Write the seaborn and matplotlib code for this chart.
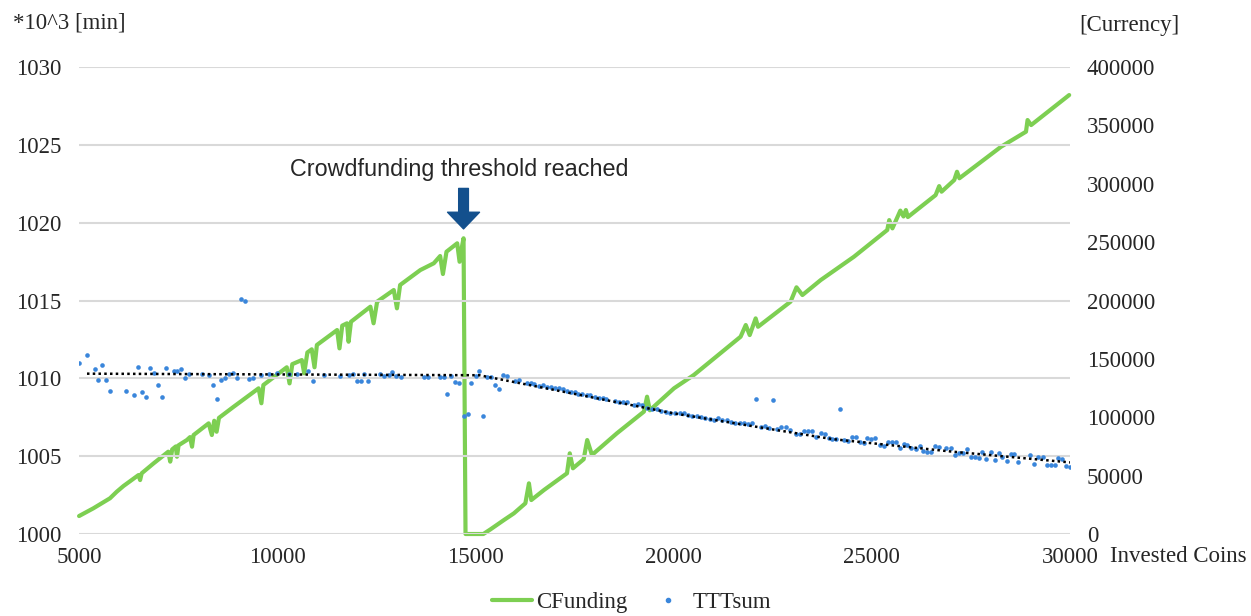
import matplotlib

matplotlib.use("Agg")
import matplotlib.pyplot as plt
from matplotlib.lines import Line2D
import pandas as pd
import seaborn as sns

# CFunding (right axis, currency), incl. the dips/spikes
cf_coins = [5000, 5360, 5780, 5950, 6120, 6500, 6540, 6580, 6880, 7250, 7300, 7350,
            7440, 7470, 7510, 7720, 7800, 7850, 7890, 8270, 8350, 8410, 8470, 8530,
            8900, 9530, 9600, 9650, 10240, 10310, 10380, 10620, 10680, 10760, 10870,
            10940, 11000, 11510, 11570, 11640, 11760, 11800, 11860, 12350, 12430,
            12520, 12940, 13020, 13100, 13610, 13950, 14110, 14180, 14270, 14540,
            14600, 14660, 14700, 14750, 15200,
            15380, 15720, 15970, 16260, 16350, 16410, 16730, 17310, 17380, 17460,
            17730, 17820, 17940, 18570, 19250, 19330, 19400, 20010, 20510, 21690,
            21820, 21920, 22070, 22130, 22950, 23100, 23250, 23710, 24550, 25390,
            25440, 25520, 25720, 25800, 25860, 25910, 26610, 26700, 26760, 27080,
            27150, 27210, 28260, 28890, 28930, 29020, 29980]
cf_currency = [15400, 22000, 30600, 36200, 41100, 50500, 46200, 52000, 60500, 70500,
               62000, 72500, 75000, 66200, 76000, 80500, 83000, 74800, 84800, 94800,
               84800, 97000, 87600, 99500, 109000, 124800, 112000, 127600, 142800,
               129000, 145500, 149000, 137600, 155500, 158200, 142800, 161900, 174700,
               159000, 178500, 180500, 164700, 181800, 194700, 180500, 199000, 209000,
               193300, 213300, 226100, 231900, 238100, 222700, 241800, 249000, 233200,
               246100, 253300, 0, 0,
               4000, 12000, 17700, 26300, 43400, 29100, 37700, 52000, 69100, 56300,
               64000, 80500, 67700, 86300, 104800, 117600, 106000, 124800, 136200,
               169000, 179000, 170400, 184700, 177500, 199000, 211300, 204700, 217500,
               237500, 260400, 268900, 261800, 277000, 272000, 277500, 271500, 290300,
               298000, 293200, 303200, 310300, 304700, 331700, 344600, 354600, 350300,
               376000]

# TTTsum (left axis, *10^3 min)
ttt_coins = [5000, 5190, 5390, 5490, 5590, 5680, 5780, 6190, 6390, 6480, 6580, 6680,
             6780, 6880, 6980, 7090, 7190, 7390, 7480, 7580, 7680, 7780, 8100, 8290,
             8390, 8480, 8590, 8690, 8790, 8890, 8990, 9090, 9190, 9290, 9390, 9590,
             9790, 10000, 10290, 10500, 10770, 10890, 11190, 11590, 11800, 11900,
             12010, 12110, 12200, 12290, 12600, 12700, 12810, 12900, 13000, 13110,
             13710, 13800, 14100, 14200, 14290, 14390, 14490, 14590, 14700, 14800,
             14900, 15010, 15100, 15190, 15290, 15390, 15490, 15590, 15690, 15800,
             15990, 16100, 16300, 16390, 16490, 16600, 16700, 16810, 16900, 17000,
             17100, 17200, 17300, 17400, 17500, 17600, 17690, 17820, 17900, 18010,
             18110, 18210, 18300, 18520, 18620, 18730, 18830, 19000, 19110, 19210,
             19330, 19460, 19580, 19690, 19810, 19920, 20030, 20150, 20260, 20370,
             20470, 20580, 20680, 20800, 20910, 21010, 21120, 21220, 21350, 21460,
             21560, 21670, 21770, 21880, 21980, 22090, 22200, 22300, 22410, 22510,
             22610, 22720, 22830, 22930, 23080, 23180, 23290, 23390, 23500, 23600,
             23710, 23810, 23920, 23990, 24090, 24200, 24300, 24400, 24510, 24610,
             24700, 24800, 24890, 24990, 25080, 25200, 25310, 25410, 25500, 25600,
             25700, 25800, 25900, 26000, 26110, 26210, 26300, 26400, 26500, 26600,
             26700, 26880, 26990, 27100, 27200, 27300, 27400, 27510, 27610, 27710,
             27790, 27890, 28000, 28100, 28200, 28290, 28400, 28500, 28600, 28700,
             29000, 29100, 29200, 29310, 29410, 29510, 29610, 29710, 29790, 29910,
             29990]
ttt_sum = [1010.96, 1011.5, 1010.6, 1009.9, 1010.85, 1009.9, 1009.2, 1009.2, 1008.9,
           1010.7, 1009.1, 1008.8, 1010.65, 1010.35, 1009.6, 1008.8, 1010.65, 1010.5,
           1010.45, 1010.6, 1010.05, 1010.25, 1010.27, 1010.2, 1009.6, 1008.7, 1009.9,
           1010.05, 1010.3, 1010.35, 1010.05, 1015.1, 1015.0, 1009.95, 1010.05, 1010.2,
           1010.3, 1010.35, 1010.3, 1010.3, 1010.45, 1009.85, 1010.2, 1010.15, 1010.2,
           1010.25, 1009.8, 1009.8, 1010.25, 1009.8, 1010.25, 1010.15, 1010.2, 1010.4,
           1010.15, 1010.1, 1010.1, 1010.1, 1010.1, 1010.1, 1009.0, 1010.15, 1009.75,
           1009.7, 1007.6, 1007.7, 1009.7, 1010.15, 1010.5, 1007.6, 1010.1, 1010.1,
           1009.6, 1009.3, 1010.2, 1010.15, 1009.8, 1009.9, 1009.7, 1009.7, 1009.65,
           1009.5, 1009.6, 1009.45, 1009.45, 1009.4, 1009.35, 1009.3, 1009.2, 1009.15,
           1009.1, 1009.0, 1009.0, 1008.95, 1008.9, 1008.8, 1008.75, 1008.75, 1008.7,
           1008.55, 1008.5, 1008.5, 1008.45, 1008.3, 1008.35, 1008.3, 1008.1, 1008.0,
           1008.0, 1007.9, 1007.85, 1007.8, 1007.8, 1007.75, 1007.75, 1007.65, 1007.6,
           1007.55, 1007.5, 1007.45, 1007.4, 1007.35, 1007.45, 1007.35, 1007.3, 1007.2,
           1007.15, 1007.1, 1007.15, 1007.05, 1007.1, 1008.7, 1006.85, 1006.95, 1006.8,
           1008.6, 1006.75, 1006.9, 1006.85, 1006.7, 1006.45, 1006.45, 1006.6, 1006.6,
           1006.6, 1006.25, 1006.5, 1006.45, 1006.15, 1006.1, 1006.1, 1008.05, 1006.05,
           1006.0, 1006.25, 1006.2, 1005.9, 1005.85, 1006.15, 1006.1, 1006.15, 1005.7,
           1005.65, 1005.9, 1005.9, 1005.9, 1005.5, 1005.8, 1005.75, 1005.5, 1005.45,
           1005.65, 1005.35, 1005.3, 1005.3, 1005.65, 1005.6, 1005.55, 1005.55, 1005.05,
           1005.2, 1005.2, 1005.45, 1004.95, 1004.95, 1004.9, 1005.3, 1004.85, 1005.3,
           1004.75, 1005.2, 1004.95, 1004.7, 1005.15, 1005.15, 1004.65, 1005.05, 1004.5,
           1004.95, 1004.95, 1004.45, 1004.45, 1004.45, 1004.9, 1004.85, 1004.4, 1004.3]

# dotted trend line through TTTsum
trend_coins = [5200, 15100, 17600, 20000, 24000, 27000, 30000]
trend_sum = [1010.3, 1010.2, 1008.95, 1007.75, 1006.1, 1005.3, 1004.6]

GREEN = "#7DCF52"
BLUE = "#3A86DB"
ARROW = "#13508D"
FS = 16.5

sns.set_style("white")
plt.rcParams["font.family"] = ["Liberation Serif", "DejaVu Serif"]

fig = plt.figure(figsize=(12.51, 6.16), dpi=100)
ax = fig.add_axes([0.0632, 0.1331, 0.7921, 0.7581])
ax2 = ax.twinx()
# left axis (dots) drawn over the green line
ax.set_zorder(ax2.get_zorder() + 1)
ax.patch.set_visible(False)

cf = pd.DataFrame({"coins": cf_coins, "currency": cf_currency})
ttt = pd.DataFrame({"coins": ttt_coins, "sum": ttt_sum})
trend = pd.DataFrame({"coins": trend_coins, "sum": trend_sum})

sns.lineplot(data=cf, x="coins", y="currency", ax=ax2, color=GREEN, lw=3,
             estimator=None, sort=False, legend=False, clip_on=False)
sns.lineplot(data=trend, x="coins", y="sum", ax=ax, color="black", lw=1.8,
             dashes=False, linestyle=(0, (1, 1.3)), estimator=None, legend=False)
sns.scatterplot(data=ttt, x="coins", y="sum", ax=ax, color=BLUE, s=11,
                linewidth=0, legend=False)

ax.set_xlim(5000, 30000)
ax.set_ylim(1000, 1030)
ax2.set_ylim(0, 400000)
ax.set_xticks(range(5000, 30001, 5000))
ax.set_yticks(range(1000, 1031, 5))
ax2.set_yticks(range(0, 400001, 50000))
ax.set_xlabel("")
ax.set_ylabel("")
ax2.set_ylabel("")

ax.yaxis.grid(True, color="#D9D9D9", lw=1.5)
ax.xaxis.grid(False)
ax2.grid(False)
for a in (ax, ax2):
    for sp in a.spines.values():
        sp.set_visible(False)
ax.tick_params(axis="y", length=0, pad=13, labelsize=FS)
ax.tick_params(axis="x", length=0, pad=9, labelsize=FS)
ax2.tick_params(axis="y", length=0, pad=12, labelsize=FS)

fig.text(13 / 1251, 1 - 23 / 616, "*10^3 [min]", ha="left", va="center", fontsize=FS)
fig.text(1079 / 1251, 1 - 26 / 616, "[Currency]", ha="left", va="center", fontsize=FS)
fig.text(1110 / 1251, 1 - 556 / 616, "Invested Coins", ha="left", va="center", fontsize=FS)

# threshold annotation
ax.annotate("", xy=(14700, 1019.6), xytext=(14700, 1022.2),
            arrowprops=dict(arrowstyle="simple,head_length=12,head_width=23,tail_width=7",
                            mutation_scale=1, color=ARROW, shrinkA=0, shrinkB=0))
ax.text(14600, 1023.4, "Crowdfunding threshold reached", ha="center", va="center",
        family=["Liberation Sans", "DejaVu Sans"], fontsize=16.8)

handles = [Line2D([], [], color=GREEN, lw=3),
           Line2D([], [], marker="o", ls="", color=BLUE, markersize=3)]
fig.legend(handles, ["CFunding", "TTTsum"], loc="center", bbox_to_anchor=(0.505, 0.022),
           ncol=2, frameon=False, fontsize=FS, handlelength=1.75, columnspacing=0.9,
           handletextpad=0.2)

fig.savefig("out.png", dpi=100)
